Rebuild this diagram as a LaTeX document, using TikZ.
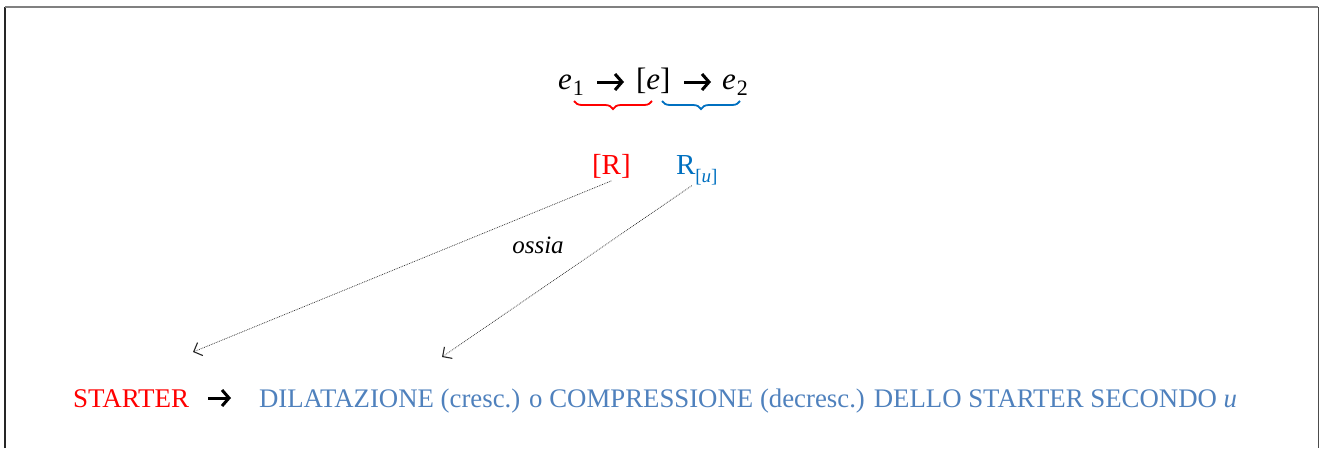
\documentclass[tikz,border=0pt]{standalone}
\usepackage{fontspec}
\setmainfont{Liberation Serif}
\usetikzlibrary{arrows.meta,decorations.pathreplacing,calc}
\definecolor{cred}{RGB}{255,0,0}
\definecolor{cblue}{RGB}{0,112,192}
\definecolor{cpale}{RGB}{79,129,189}
\begin{document}
\begin{tikzpicture}[x=1pt,y=-1pt,
  txt/.style={inner sep=0pt, outer sep=0pt, anchor=base west},
  bigarrow/.style={line width=3pt, -{Straight Barb[length=7pt,width=16pt,line width=3pt]}},
  dotarrow/.style={draw=black!85, line width=0.7pt, dash pattern=on 0.8pt off 1pt,
     -{Straight Barb[length=7pt,width=14pt,line width=1.1pt]}},
  bracestyle/.style={decorate, decoration={brace, mirror, amplitude=8pt}, line width=1.8pt}]
\useasboundingbox (0,0) rectangle (1322,448);
% frame
\draw[black!85, line width=1.2pt] (5,448) -- (5,7);
\draw[gray, line width=1.4pt] (5,7) -- (1318,7);
\draw[black!70, line width=1pt] (1318,7) -- (1318,448);
% formula
\node[txt, font=\fontsize{31}{36}\selectfont] (e1) at (558,89) {\textit{e}\kern1pt\raisebox{-0.22em}{\fontsize{22}{24}\selectfont 1}};
\node[txt, font=\fontsize{31}{36}\selectfont] (ee) at (636,89) {[\textit{e}]};
\node[txt, font=\fontsize{31}{36}\selectfont] (e2) at (722,89) {\textit{e}\kern1pt\raisebox{-0.22em}{\fontsize{22}{24}\selectfont 2}};
\coordinate (a1s) at (597,82); \coordinate (a1e) at (624,82);
\coordinate (a2s) at (684,82); \coordinate (a2e) at (711,82);
\draw[bigarrow] (a1s) -- (a1e);
\draw[bigarrow] (a2s) -- (a2e);
\draw[bracestyle, cred] (574,101) -- (652,101);
\draw[bracestyle, cblue] (662,101) -- (740,101);
% R labels
\node[txt, text=cred, font=\fontsize{29}{34}\selectfont] (R) at (592,174) {[R]};
\node[txt, text=cblue, font=\fontsize{29}{34}\selectfont] (Ru) at (676,174) {R\raisebox{-0.28em}{\fontsize{19}{22}\selectfont[\textit{u}]}};
% dotted connectors
\coordinate (t1) at (193,352);
\coordinate (t2) at (442,357);
\draw[dotarrow] ([yshift=-3pt]R.south) -- (t1);
\draw[dotarrow] ([xshift=-5pt,yshift=-1pt]Ru.south) -- (t2);
\node[font=\fontsize{25}{30}\selectfont\itshape, inner sep=0pt] (oss) at (538,245) {ossia};
% bottom line
\node[txt, text=cred, font=\fontsize{27}{32}\selectfont] (st) at (73,407) {STARTER};
\coordinate (b1s) at (208,398); \coordinate (b1e) at (231,398);
\draw[bigarrow] (b1s) -- (b1e);
\node[txt, text=cpale, font=\fontsize{26.8}{32}\selectfont] (dil) at (259,407) {DILATAZIONE (cresc.) o COMPRESSIONE (decresc.) DELLO STARTER SECONDO \textit{u}};
\end{tikzpicture}
\end{document}
